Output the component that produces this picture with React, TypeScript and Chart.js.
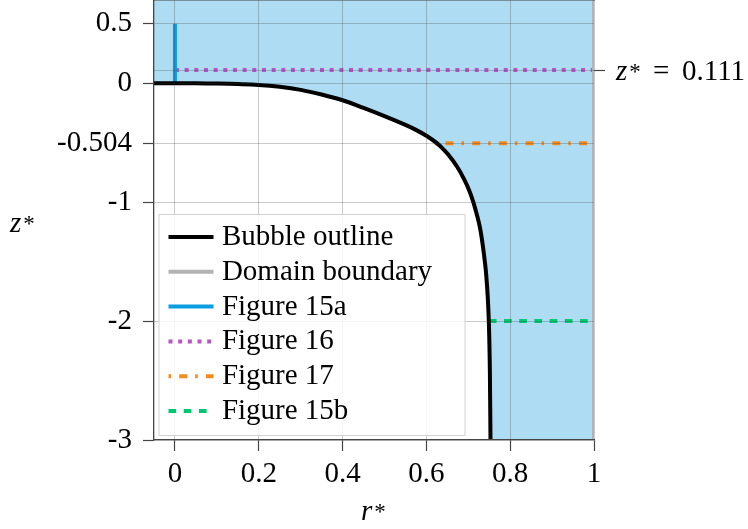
import { useEffect, useRef } from 'react';
import { Chart, registerables } from 'chart.js';

Chart.register(...registerables);

// Bubble outline z*(r*), with the flat mirrored part for r* < 0
const bubbleR = [
  -0.05, 0, 0.05, 0.1, 0.15, 0.2, 0.25, 0.3, 0.35, 0.4, 0.45, 0.5, 0.55, 0.575, 0.6, 0.625,
  0.639, 0.652, 0.673, 0.689, 0.702, 0.712, 0.72, 0.727, 0.732, 0.736, 0.7395, 0.7425,
  0.7465, 0.749, 0.751, 0.752, 0.753,
];
const bubbleZ = [
  0, 0, -0.0007, -0.0025, -0.0065, -0.014, -0.03, -0.056, -0.095, -0.143, -0.207, -0.276, -0.35, -0.392, -0.442, -0.504,
  -0.55, -0.6, -0.7, -0.8, -0.9, -1.0, -1.1, -1.2, -1.3, -1.4, -1.5, -1.6,
  -1.8, -2.0, -2.3, -2.6, -3.0,
];

// Outer wall of the computational domain
const domainR = [1, 1];
const domainZ = [-3, 0.7];

// Sampling lines used in the later figures
const fig15aR = [0, 0];
const fig15aZ = [0, 0.5];
const fig16R = [0, 1];
const fig16Z = [0.111, 0.111];
const fig17R = [0.62, 1];
const fig17Z = [-0.504, -0.504];
const fig15bR = [0.749, 1];
const fig15bZ = [-2, -2];

// Axis ticks
const xTicks = [0, 0.2, 0.4, 0.6, 0.8, 1];
const xTickLabels = ['0', '0.2', '0.4', '0.6', '0.8', '1'];
const yTicks = [0.5, 0, -0.504, -1, -2, -3];
const yTickLabels = ['0.5', '0', '-0.504', '-1', '-2', '-3'];
const zStar = 0.111;
const zStarValue = '0.111';

const FONT = "'Liberation Serif', 'Times New Roman', serif";
const GRID = 'rgba(60,60,60,0.27)';
const AXIS = '#454545';
const LIQUID = '#addcf3';
const CURVE_TENSION = 0.4;

const pts = (r: number[], z: number[]) => r.map((v, i) => ({ x: v, y: z[i] }));

// italic symbol with a superscript asterisk
function drawStarred(ctx: CanvasRenderingContext2D, sym: string, x: number, baseline: number) {
  ctx.font = `italic 29px ${FONT}`;
  ctx.textAlign = 'left';
  ctx.textBaseline = 'alphabetic';
  ctx.fillText(sym, x, baseline);
  const w = ctx.measureText(sym).width;
  ctx.font = `23px ${FONT}`;
  ctx.fillText('*', x + w + 2, baseline - 1);
  return x + w + 2 + ctx.measureText('*').width;
}

const labelsPlugin = {
  id: 'mathLabels',
  afterDraw(chart: any) {
    const { ctx, chartArea, scales } = chart;
    ctx.save();
    ctx.fillStyle = '#000';
    // axis titles
    drawStarred(ctx, 'z', 10, 232);
    drawStarred(ctx, 'r', 361, 520);
    // value marker on the right
    const y = scales.yRight.getPixelForValue(zStar);
    const x0 = chartArea.right + 22;
    drawStarred(ctx, 'z', x0, y + 10);
    ctx.font = `29px ${FONT}`;
    ctx.textBaseline = 'alphabetic';
    ctx.fillText('=', x0 + 37, y + 10);
    ctx.fillText(zStarValue, x0 + 66, y + 10);
    ctx.restore();
  },
};

const legendPlugin = {
  id: 'insetLegend',
  afterDraw(chart: any) {
    const { ctx, chartArea } = chart;
    const items = chart.data.datasets.filter((d: any) => d.label);
    const width = 306;
    const height = 221;
    const rowH = 34.8;
    const left = chartArea.left + 4.5;
    const top = chartArea.bottom - 5 - height;
    ctx.save();
    ctx.fillStyle = 'rgba(255,255,255,0.85)';
    ctx.fillRect(left, top, width, height);
    ctx.strokeStyle = '#d2d2d2';
    ctx.lineWidth = 1;
    ctx.strokeRect(left + 0.5, top + 0.5, width, height);
    items.forEach((d: any, i: number) => {
      const cy = top + 23 + i * rowH;
      ctx.strokeStyle = d.borderColor;
      ctx.lineWidth = 4;
      ctx.lineCap = 'butt';
      ctx.setLineDash(d.borderDash || []);
      ctx.beginPath();
      ctx.moveTo(left + 10, cy);
      ctx.lineTo(left + 55, cy);
      ctx.stroke();
      ctx.setLineDash([]);
      ctx.fillStyle = '#000';
      ctx.font = `29px ${FONT}`;
      ctx.textAlign = 'left';
      ctx.textBaseline = 'alphabetic';
      ctx.fillText(d.label, left + 63.4, cy + 8);
    });
    ctx.restore();
  },
};

const zeroPad = (scale: any) => {
  scale.paddingTop = 0;
  scale.paddingBottom = 0;
  scale.paddingLeft = 0;
  scale.paddingRight = 0;
};

export default function App() {
  const ref = useRef<HTMLCanvasElement>(null);

  useEffect(() => {
    if (!ref.current) return;
    const line = (label: string, data: any[], color: string, order: number, dash: number[] = []) => ({
      label,
      data,
      showLine: true,
      borderColor: color,
      backgroundColor: color,
      borderWidth: 4,
      borderDash: dash,
      borderCapStyle: 'butt',
      borderJoinStyle: 'round',
      pointRadius: 0,
      fill: false,
      tension: 0,
      order,
    });

    // liquid region: everything outside the bubble, closed along the bottom edge
    const lastR = bubbleR[bubbleR.length - 1];
    const fillR = [...bubbleR, lastR, 1];
    const fillZ = [...bubbleZ, -3.2, -3.2];

    const chart = new Chart(ref.current, {
      type: 'scatter',
      data: {
        datasets: [
          { ...line('Bubble outline', pts(bubbleR, bubbleZ), '#000000', 0), tension: CURVE_TENSION },
          line('Domain boundary', pts(domainR, domainZ), '#b3b3b3', 1),
          line('Figure 15a', pts(fig15aR, fig15aZ), '#0a9de0', 2),
          line('Figure 16', pts(fig16R, fig16Z), '#b456c3', 3, [4, 5.67]),
          line('Figure 17', pts(fig17R, fig17Z), '#f58a1f', 4, [2.5, 8.2, 8, 8]),
          line('Figure 15b', pts(fig15bR, fig15bZ), '#00c870', 5, [7.7, 7.5]),
          {
            label: '',
            data: pts(fillR, fillZ),
            showLine: true,
            borderWidth: 0,
            borderColor: 'transparent',
            backgroundColor: LIQUID,
            pointRadius: 0,
            fill: 'end',
            tension: CURVE_TENSION,
            order: 10,
          },
        ] as any,
      },
      options: {
        responsive: false,
        animation: false,
        layout: { padding: 0 },
        plugins: { legend: { display: false }, tooltip: { enabled: false } },
        scales: {
          x: {
            type: 'linear',
            position: 'bottom',
            min: -0.05,
            max: 1,
            afterBuildTicks: (s: any) => { s.ticks = xTicks.map((v) => ({ value: v })); },
            afterFit: (s: any) => { s.height = 89; zeroPad(s); },
            ticks: {
              autoSkip: false,
              maxRotation: 0,
              padding: 6,
              color: '#000',
              font: { family: FONT, size: 29 },
              callback: (v: any) => xTickLabels[xTicks.indexOf(v)] ?? '',
            },
            grid: { color: GRID, lineWidth: 1, z: 1, tickLength: 11, tickColor: AXIS, tickWidth: 1.2 },
            border: { display: true, color: AXIS, width: 1.3, z: 1 },
          },
          xTop: {
            type: 'linear',
            position: 'top',
            min: -0.05,
            max: 1,
            afterFit: (s: any) => { s.height = 0; zeroPad(s); },
            ticks: { display: false },
            grid: { display: false, drawTicks: false, z: 1 },
            border: { display: true, color: AXIS, width: 1.5, z: 1 },
          },
          y: {
            type: 'linear',
            position: 'left',
            min: -3,
            max: 0.7,
            afterBuildTicks: (s: any) => { s.ticks = yTicks.map((v) => ({ value: v })); },
            afterFit: (s: any) => { s.width = 154; zeroPad(s); },
            ticks: {
              autoSkip: false,
              padding: 11,
              color: '#000',
              font: { family: FONT, size: 29 },
              callback: (v: any) => yTickLabels[yTicks.indexOf(v)] ?? '',
            },
            grid: { color: GRID, lineWidth: 1, z: 1, tickLength: 11, tickColor: AXIS, tickWidth: 1.2 },
            border: { display: true, color: AXIS, width: 1.3, z: 1 },
          },
          yRight: {
            type: 'linear',
            position: 'right',
            min: -3,
            max: 0.7,
            afterBuildTicks: (s: any) => { s.ticks = [{ value: zStar }]; },
            afterFit: (s: any) => { s.width = 154; zeroPad(s); },
            ticks: { autoSkip: false, callback: () => '' },
            grid: { color: GRID, lineWidth: 1, z: 1, tickLength: 11, tickColor: AXIS, tickWidth: 1.2 },
            border: { display: false },
          },
        },
      } as any,
      plugins: [labelsPlugin, legendPlugin],
    });
    return () => chart.destroy();
  }, []);

  return (
    <canvas
      ref={ref}
      width={748}
      height={529}
      style={{ position: 'absolute', left: 0, top: 0, width: 748, height: 529 }}
    />
  );
}
